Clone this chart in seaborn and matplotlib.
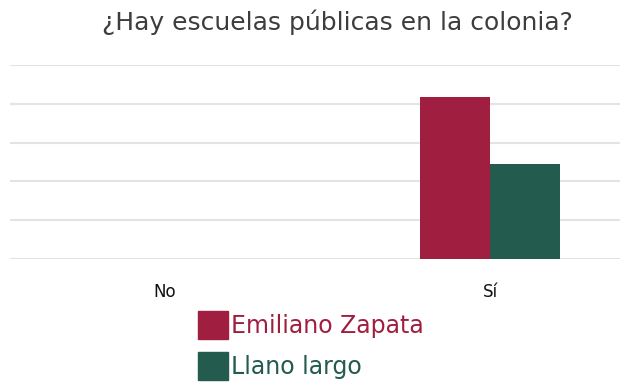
import pandas as pd
import matplotlib.pyplot as plt
import seaborn as sns

# Data (grid units, no axis labels shown)
categories = ['No', 'Sí']
zapata = [0, 4.17]
llano = [0, 2.45]
series_names = ['Emiliano Zapata', 'Llano largo']
colors = ['#A01F41', '#235B4E']

df = pd.DataFrame({
    'respuesta': categories * 2,
    'colonia': [series_names[0]] * 2 + [series_names[1]] * 2,
    'valor': zapata + llano,
})

sns.set_style('white')
plt.rcParams['font.family'] = ['DejaVu Sans']

fig = plt.figure(figsize=(6.2, 3.82), dpi=100)
ax = fig.add_axes([10 / 620, 123 / 382, 610 / 620, 194 / 382])

sns.barplot(data=df, x='respuesta', y='valor', hue='colonia',
            hue_order=series_names, palette=colors, width=0.43,
            saturation=1, linewidth=0, ax=ax, legend=False)

ax.set_ylim(0, 5)
ax.set_xlim(-0.477, 1.4)
ax.set_yticks(range(0, 6))
ax.set_yticklabels([])
ax.yaxis.grid(True, color='#e3e3e3', linewidth=1.5)
ax.set_axisbelow(True)
for s in ax.spines.values():
    s.set_visible(False)
ax.set_xlabel('')
ax.set_ylabel('')
ax.tick_params(axis='x', length=0, labelsize=12, pad=17, colors='#111111')
ax.tick_params(axis='y', length=0)

fig.text(337 / 620, 1 - 22 / 382, '¿Hay escuelas públicas en la colonia?',
         ha='center', va='center', fontsize=18, color='#3d3d3d')

handles = [plt.Rectangle((0, 0), 1, 1, color=c) for c in colors]
leg = fig.legend(handles, series_names, loc='upper left',
                 bbox_to_anchor=(198 / 620, 1 - 311 / 382), frameon=False,
                 fontsize=17, handlelength=1.28, handleheight=1.45,
                 handletextpad=0.12, labelspacing=0.55, borderpad=0,
                 borderaxespad=0)
for t, c in zip(leg.get_texts(), colors):
    t.set_color(c)

fig.savefig('out.png', dpi=100)
